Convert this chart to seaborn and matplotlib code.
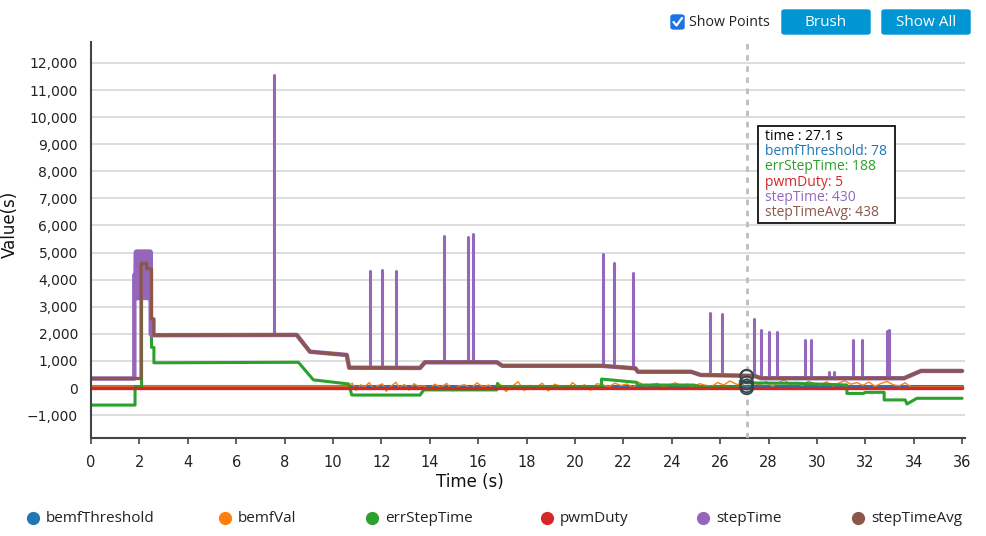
import numpy as np
import pandas as pd
import matplotlib
matplotlib.use("Agg")
import matplotlib.pyplot as plt
import seaborn as sns
from matplotlib.patches import FancyBboxPatch, Rectangle
from matplotlib.lines import Line2D
from matplotlib.ticker import FuncFormatter, MultipleLocator

# ---------------- data ----------------
series_names = ["bemfThreshold", "bemfVal", "errStepTime", "pwmDuty", "stepTime", "stepTimeAvg"]
series_colors = ["#1f77b4", "#ff7f0e", "#2ca02c", "#d62728", "#9467bd", "#8c564b"]

thr_t = [0, 36]
thr_v = [78, 78]

pwm_t = [0, 36]
pwm_v = [5, 5]

bemf_t = [0, 10.4,
          10.6, 10.8, 10.95, 11.15, 11.3, 11.5, 11.7, 11.85, 12.05, 12.2, 12.4, 12.6, 12.75, 12.95, 13.15, 13.35, 13.55,
          13.75, 14.0, 14.2, 14.45, 14.7, 14.95, 15.2, 15.45, 15.7, 15.95, 16.2, 16.45, 16.7,
          16.9, 17.15, 17.4, 17.65, 17.9, 18.15, 18.4, 18.65, 18.9, 19.15, 19.4, 19.65, 19.9, 20.15, 20.4, 20.65, 20.9,
          21.15, 21.4, 21.65, 21.9, 22.15, 22.4, 22.65, 22.9, 23.15, 23.4, 23.65, 23.9, 24.15, 24.4, 24.65, 24.9, 25.15, 25.4, 25.65,
          25.9, 26.15, 26.4, 26.65, 26.9, 27.15, 27.4, 27.65, 27.9, 28.15, 28.4, 28.65, 28.9, 29.15, 29.4, 29.65, 29.9,
          30.15, 30.4, 30.65, 30.9, 31.15, 31.4, 31.65, 31.9, 32.15, 32.4, 32.65, 32.9, 33.15, 33.4, 33.65, 33.9,
          34.2, 36]
bemf_v = [70, 70,
          60, 180, -90, 120, 40, 200, -60, 90, 150, -120, 70, 210, 10, 130, -80, 160, 50,
          90, -40, 140, 20, 170, -100, 80, 120, -30, 190, 40, 110, -70,
          150, -130, 60, 230, -90, 100, 30, 180, -110, 140, 70, -60, 200, 20, 120, -80, 160,
          120, 40, 180, 90, 150, 20, 210, 60, 130, 170, 50, 110, 190, 80, 140, 30, 160, 100, 60,
          200, 110, 260, 150, 90, 280, 170, 120, 240, 60, 190, 300, 130, 210, 90, 250, 160,
          110, 230, 70, 180, 270, 140, 200, 100, 220, 60, 170, 240, 120, 80, 190, 30,
          40, 40]

err_t = [0, 1.82, 1.82, 2.09, 2.09, 2.5, 2.5, 2.6, 2.6, 8.57, 9.19, 10.64, 10.78, 13.6, 13.75,
         16.77, 16.8, 16.85, 21.1, 21.1, 22.55, 22.6, 24.9, 25.3, 26.83, 26.83, 27.1, 29.3,
         31.24, 31.24, 31.93, 32.0, 32.78, 32.78, 33.65, 33.72, 33.9, 34.13, 36]
err_v = [-630, -630, 50, 50, 3600, 3600, 1500, 1500, 930, 950, 300, 150, -260, -260, -70,
         -70, 170, 50, 50, 330, 210, 110, 110, 30, 30, 260, 190, 170,
         110, -200, -200, -160, -160, -440, -440, -590, -500, -380, -380]

step_t = [0, 1.79, 1.79, 1.84,
          1.86, 1.88, 1.90, 1.92, 1.94, 1.96, 1.98, 2.00, 2.02, 2.04, 2.06, 2.08, 2.10, 2.12, 2.14, 2.16,
          2.18, 2.20, 2.22, 2.24, 2.26, 2.28, 2.30, 2.32, 2.34, 2.36, 2.38, 2.40, 2.42, 2.44, 2.46,
          2.47, 2.5, 2.6, 8.5, 9.05, 10.57, 10.67, 13.6, 13.8, 16.77, 17.0, 21.1, 22.5, 22.6,
          24.8, 25.2, 27.4, 27.7, 33.6, 34.3, 36]
step_v = [350, 350, 4170, 4170,
          5030, 3320, 5030, 3320, 5030, 3320, 5030, 3400, 5030, 3320, 5030, 3600, 5030, 3320, 5030, 3320,
          5030, 3350, 5030, 3320, 5030, 3500, 5030, 3320, 5030, 3320, 5030, 3320, 5030, 3400, 5030,
          2000, 1950, 1950, 1960, 1340, 1220, 750, 740, 950, 950, 820, 820, 725, 600,
          600, 480, 450, 360, 360, 630, 630]

spike_t = [7.57, 11.53, 12.02, 12.61, 14.58, 15.60, 15.78, 21.14, 21.63, 22.38, 25.59, 26.07,
           27.42, 27.70, 28.03, 28.35, 29.52, 29.75, 30.52, 30.71, 31.49, 31.86, 32.89, 33.00]
spike_top = [11560, 4330, 4360, 4330, 5620, 5560, 5670, 4940, 4630, 4230, 2780, 2730,
             2540, 2140, 2080, 2080, 1770, 1770, 600, 600, 1770, 1770, 2100, 2130]
spike_base = [1950, 740, 740, 740, 950, 950, 950, 820, 790, 740, 480, 470,
              450, 380, 360, 360, 360, 360, 360, 360, 360, 360, 360, 360]

avg_t = [0, 2.07, 2.07, 2.3, 2.3, 2.5, 2.5, 2.6, 2.6, 8.5, 9.05, 10.57, 10.67, 13.6, 13.8,
         16.77, 17.0, 21.1, 22.5, 22.6, 24.8, 25.2, 27.4, 27.7, 33.6, 34.3, 36]
avg_v = [350, 350, 4600, 4600, 4400, 4400, 2550, 2550, 1950, 1960, 1340, 1220, 750, 740, 950,
         950, 820, 820, 725, 600, 600, 480, 450, 360, 360, 630, 630]

hover_time = 27.1
hover_vals = [438, 430, 188, 78, 5]
tooltip_lines = ["time : 27.1 s", "bemfThreshold: 78", "errStepTime: 188", "pwmDuty: 5",
                 "stepTime: 430", "stepTimeAvg: 438"]
tooltip_colors = ["#000000", "#1f77b4", "#2ca02c", "#d62728", "#9467bd", "#8c564b"]

x_ticks = list(range(0, 37, 2))
y_ticks = list(range(-1000, 12001, 1000))

# ---------------- figure ----------------
sns.set_theme(style="white")
plt.rcParams['font.family'] = ['DejaVu Sans']

W, H = 986, 536
fig = plt.figure(figsize=(W / 100, H / 100), dpi=100)
fx = lambda px: px / W
fy = lambda py: 1 - py / H

ax = fig.add_axes([fx(91), fy(438), fx(964.5) - fx(91), fy(42) - fy(438)])
ax.set_xlim(0, 36.1)
ax.set_ylim(-1846, 12775)

def frame(t, v, unit="main"):
    return pd.DataFrame({"time": t, "value": v, "unit": unit})

cmap = dict(zip(series_names, series_colors))
sns.lineplot(data=frame(thr_t, thr_v), x="time", y="value", estimator=None, sort=False,
             color=cmap["bemfThreshold"], lw=2.2, ax=ax)
sns.lineplot(data=frame(bemf_t, bemf_v), x="time", y="value", estimator=None, sort=False,
             color=cmap["bemfVal"], lw=1.0, ax=ax)
sns.lineplot(data=frame(err_t, err_v), x="time", y="value", estimator=None, sort=False,
             color=cmap["errStepTime"], lw=2.2, ax=ax)
sns.lineplot(data=frame(pwm_t, pwm_v), x="time", y="value", estimator=None, sort=False,
             color=cmap["pwmDuty"], lw=2.4, ax=ax)
sns.lineplot(data=frame(step_t, step_v), x="time", y="value", estimator=None, sort=False,
             color=cmap["stepTime"], lw=3.2, ax=ax)
spikes = pd.concat([frame([t, t], [b, top], unit=f"s{i}")
                    for i, (t, b, top) in enumerate(zip(spike_t, spike_base, spike_top))])
sns.lineplot(data=spikes, x="time", y="value", units="unit", estimator=None, sort=False,
             color=cmap["stepTime"], lw=2.2, ax=ax)
sns.lineplot(data=frame(avg_t, avg_v), x="time", y="value", estimator=None, sort=False,
             color=cmap["stepTimeAvg"], lw=2.4, ax=ax)

# hover line and markers
ax.axvline(hover_time, color="#bdbdbd", lw=2, ls=(0, (2, 2)), zorder=4)
sns.scatterplot(x=[hover_time] * len(hover_vals), y=hover_vals, s=85, facecolors="none",
                edgecolor="#34474f", linewidth=1.3, zorder=6, ax=ax)

# axes styling
ax.yaxis.grid(True, color="#dddddd", lw=1.4)
ax.xaxis.grid(False)
ax.set_axisbelow(True)
for s in ["top", "right"]:
    ax.spines[s].set_visible(False)
for s in ["left", "bottom"]:
    ax.spines[s].set_color("#444444")
    ax.spines[s].set_linewidth(1.5)
ax.set_xticks(x_ticks)
ax.set_yticks(y_ticks)
ax.yaxis.set_major_formatter(FuncFormatter(lambda v, p: f"{v:,.0f}".replace("-", "\u2212")))
ax.tick_params(axis="x", length=4, width=1.2, color="#444444", pad=8.5, labelsize=10.5,
               labelcolor="#222222", bottom=True)
ax.tick_params(axis="y", length=0, pad=9.4, labelsize=10, labelcolor="#222222", left=True)
for lab in ax.get_xticklabels():
    lab.set_fontfamily(["Liberation Sans Narrow", "DejaVu Sans"])
ax.set_xlabel("")
ax.set_ylabel("")
fig.text(fx(470), fy(482), "Time (s)", ha="center", va="center", fontsize=12, color="#111111")
fig.text(fx(10), fy(224), "Value(s)", ha="center", va="center", rotation=90, fontsize=12,
         color="#111111")

# tooltip
fig.add_artist(Rectangle((fx(758), fy(223)), fx(895) - fx(758), fy(126) - fy(223),
                         transform=fig.transFigure, facecolor="white", edgecolor="#111111",
                         lw=1.3, zorder=10))
for i, (txt, col) in enumerate(zip(tooltip_lines, tooltip_colors)):
    fig.text(fx(765), fy(136 + i * 15.4), txt, ha="left", va="center", fontsize=10,
             color=col, family=["Open Sans", "DejaVu Sans"], zorder=11)

# legend (bottom)
legend_x = [33, 225, 372, 547, 703, 858]
for name, col, px in zip(series_names, series_colors, legend_x):
    fig.add_artist(Line2D([fx(px)], [fy(518)], marker="o", ms=8.5, color=col, lw=0,
                          transform=fig.transFigure))
    fig.text(fx(px + 13), fy(518), name, ha="left", va="center", fontsize=11,
             color="#222222", family=["Open Sans", "DejaVu Sans"])

# top controls
fig.add_artist(FancyBboxPatch((fx(671), fy(29)), fx(684) - fx(671), fy(15) - fy(29),
                              boxstyle="round,pad=0,rounding_size=0.003",
                              transform=fig.transFigure, facecolor="#1a73e8", edgecolor="#1a73e8"))
fig.add_artist(Line2D([fx(673.5), fx(676.5), fx(682)], [fy(22), fy(25.5), fy(18)], color="white",
                      lw=1.6, transform=fig.transFigure, solid_capstyle="round"))
fig.text(fx(689), fy(23), "Show Points", ha="left", va="center", fontsize=10.2, color="#222222",
         family=["Open Sans", "DejaVu Sans"])
for (x0, x1, label) in [(782, 870, "Brush"), (882, 970, "Show All")]:
    fig.add_artist(FancyBboxPatch((fx(x0), fy(34)), fx(x1) - fx(x0), fy(10) - fy(34),
                                  boxstyle="round,pad=0,rounding_size=0.003",
                                  transform=fig.transFigure, facecolor="#0096d3",
                                  edgecolor="#0096d3"))
    fig.text(fx((x0 + x1) / 2), fy(22), label, ha="center", va="center", fontsize=11,
             color="white", family=["Open Sans", "DejaVu Sans"])

fig.savefig("out.png", dpi=100)
